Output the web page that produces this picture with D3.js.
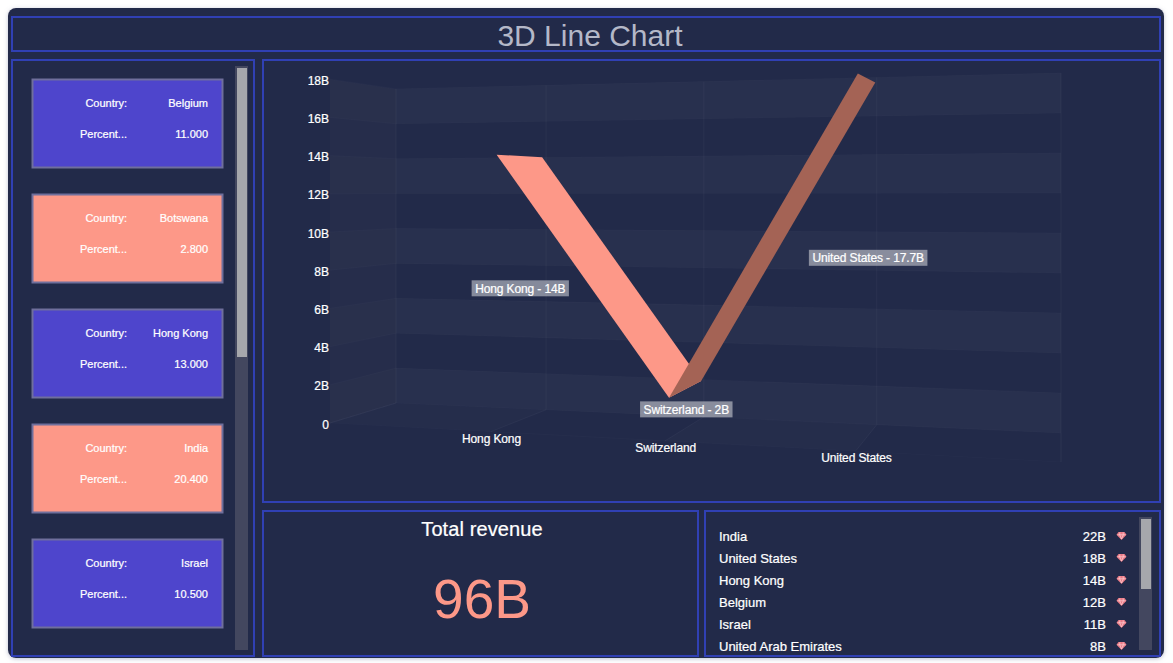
<!DOCTYPE html>
<html>
<head>
<meta charset="utf-8">
<script src="https://cdn.jsdelivr.net/npm/d3@7"></script>
<style>
  html, body { margin: 0; background: #fff; overflow: hidden; }
  svg { display: block; font-family: "Liberation Sans", Arial, sans-serif; }
  .white { fill: #fff; stroke: #fff; stroke-width: 0.22px; }
  .tight { letter-spacing: -0.12px; }
</style>
</head>
<body>
<svg id="chart" width="1173" height="663"></svg>
<script>
const categories = ["Hong Kong", "Switzerland", "United States"];
const revenue = [14, 2, 17.7];
const revenueLabels = ["14B", "2B", "17.7B"];
const yTicks = [0, 2, 4, 6, 8, 10, 12, 14, 16, 18];
const segmentColors = ["#fd9888", "#a46355"];

const cardCountries = ["Belgium", "Botswana", "Hong Kong", "India", "Israel"];
const cardPercents = ["11.000", "2.800", "13.000", "20.400", "10.500"];
const cardColors = ["#4e45cc", "#fd9888"];

const listNames = ["India", "United States", "Hong Kong", "Belgium", "Israel", "United Arab Emirates"];
const listValues = ["22B", "18B", "14B", "12B", "11B", "8B"];

const BG = "#23294a";
const BORDER = "#3040b4";
const SALMON = "#fd9888";

const svg = d3.select("#chart");

const defs = svg.append("defs");
const shadow = defs.append("filter").attr("id", "shadow")
  .attr("x", "-2%").attr("y", "-2%").attr("width", "104%").attr("height", "104%");
shadow.append("feDropShadow").attr("dx", 0).attr("dy", 1).attr("stdDeviation", 2)
  .attr("flood-color", "#8088a8").attr("flood-opacity", 0.5);
defs.append("clipPath").attr("id", "list-clip")
  .append("rect").attr("x", 706).attr("y", 512).attr("width", 453).attr("height", 140);

svg.append("rect")
  .attr("x", 8).attr("y", 8).attr("width", 1156).attr("height", 650).attr("rx", 8)
  .attr("fill", BG).attr("filter", "url(#shadow)");

function panel(x, y, w, h) {
  svg.append("rect")
    .attr("x", x + 1).attr("y", y + 1).attr("width", w - 2).attr("height", h - 2)
    .attr("fill", "none").attr("stroke", BORDER).attr("stroke-width", 2);
}

function scrollbar(x, y, h, thumbH) {
  svg.append("rect").attr("x", x).attr("y", y).attr("width", 13).attr("height", h).attr("fill", "#43475f");
  svg.append("rect").attr("x", x + 2).attr("y", y + 2).attr("width", 10).attr("height", thumbH).attr("fill", "#a6a7ac");
}

panel(11, 16, 1150, 36);
panel(11, 59, 244, 598);
panel(262, 59, 899, 444);
panel(262, 510, 437, 147);
panel(704, 510, 457, 147);

svg.append("text")
  .attr("x", 590).attr("y", 46)
  .attr("text-anchor", "middle").attr("font-size", 30).attr("fill", "#b4b8c8")
  .text("3D Line Chart");

// --- cards on the left
const cardY = d3.scaleLinear().domain([0, 1]).range([79, 194]);
const cards = svg.append("g").selectAll("g").data(cardCountries).join("g")
  .attr("transform", (d, i) => `translate(32,${cardY(i)})`);
cards.append("rect")
  .attr("x", 0.5).attr("y", 0.5).attr("width", 190).attr("height", 88)
  .attr("fill", (d, i) => cardColors[i % 2])
  .attr("stroke", "#6f6f9c").attr("stroke-width", 2);
cards.append("text").attr("class", "white").attr("x", 95).attr("y", 28).attr("text-anchor", "end")
  .attr("font-size", 11).text("Country:");
cards.append("text").attr("class", "white").attr("x", 176).attr("y", 28).attr("text-anchor", "end")
  .attr("font-size", 11).text(d => d);
cards.append("text").attr("class", "white").attr("x", 95).attr("y", 59).attr("text-anchor", "end")
  .attr("font-size", 11).text("Percent...");
cards.append("text").attr("class", "white").attr("x", 176).attr("y", 59).attr("text-anchor", "end")
  .attr("font-size", 11).text((d, i) => cardPercents[i]);
scrollbar(235, 66, 584, 289);

// --- the 3D projection: t runs along the categories, w from back wall (0) to front (1)
const tPos = d3.scalePoint().domain(categories).range([0.25, 0.75]);
const uOfT = d3.scaleLinear().domain([0, 0.25, 0.5, 0.75, 1]).range([0, 0.2256, 0.463, 0.723, 1]);
const backX = d3.scaleLinear().domain([0, 1]).range([396, 1061]);
const frontX = d3.scaleLinear().domain([0, 0.2256, 0.723, 1]).range([330, 490.5, 855.5, 1061]);
const backFloor = d3.scaleLinear().domain([0, 1]).range([403, 433]);
const frontFloor = d3.scaleLinear().domain([0, 1]).range([423, 462]);
const backUnit = d3.scaleLinear().domain([0, 1]).range([17.45, 20]);
const frontUnit = d3.scaleLinear().domain([0, 1]).range([19.1, 22.3]);

function project(t, value, w) {
  const u = uOfT(t);
  const x = backX(u) + (frontX(u) - backX(u)) * w;
  const floor = backFloor(u) + (frontFloor(u) - backFloor(u)) * w;
  const unit = backUnit(u) + (frontUnit(u) - backUnit(u)) * w;
  return [x, floor - unit * value];
}

const line = d3.line();
const plot = svg.append("g");
const bandPairs = d3.pairs(yTicks).filter((d, i) => i % 2 === 0);
const cellEdges = [0, 0.25, 0.5, 0.75, 1];

// faint tint behind the left wall
plot.append("path")
  .attr("d", line([project(0, 0, 1), project(0, 0, 0), project(0, 18, 0), project(0, 18, 1)]) + "Z")
  .attr("fill", "rgba(255,225,215,0.018)");

// back wall and left wall bands
bandPairs.forEach(([lo, hi]) => {
  plot.append("path")
    .attr("d", line(cellEdges.map(t => project(t, lo, 0)).concat(cellEdges.map(t => project(t, hi, 0)).reverse())) + "Z")
    .attr("fill", "rgba(255,255,255,0.032)");
  plot.append("path")
    .attr("d", line([project(0, lo, 1), project(0, lo, 0), project(0, hi, 0), project(0, hi, 1)]) + "Z")
    .attr("fill", "rgba(255,230,220,0.016)");
});

// grid lines on both walls
yTicks.forEach(v => {
  plot.append("path")
    .attr("d", line([project(0, v, 1), project(0, v, 0), project(1, v, 0)]))
    .attr("fill", "none").attr("stroke", "rgba(255,255,255,0.02)");
});
cellEdges.forEach(t => {
  plot.append("path")
    .attr("d", line([project(t, 18, 0), project(t, 0, 0), project(t, 0, 1)]))
    .attr("fill", "none").attr("stroke", "rgba(255,255,255,0.04)");
});
plot.append("path")
  .attr("d", line([project(0, 0, 1), project(1, 0, 1), project(1, 0, 0)]))
  .attr("fill", "none").attr("stroke", "rgba(255,255,255,0.015)");

// floor cells
[[0, 0.25], [0.5, 0.75]].forEach(([t0, t1]) => {
  plot.append("path")
    .attr("d", line([project(t0, 0, 0), project(t1, 0, 0), project(t1, 0, 1), project(t0, 0, 1)]) + "Z")
    .attr("fill", "rgba(255,235,225,0.015)");
});

// y axis labels follow the front edge of the left wall
svg.append("g").selectAll("text").data(yTicks).join("text")
  .attr("class", "white")
  .attr("x", 329)
  .attr("y", d => project(0, d, 1)[1] + 5.5)
  .attr("text-anchor", "end").attr("font-size", 12)
  .text(d => d === 0 ? "0" : d + "B");

svg.append("g").selectAll("text").data(categories).join("text")
  .attr("class", "white tight")
  .attr("x", d => project(tPos(d), 0, 1)[0] + 1)
  .attr("y", d => project(tPos(d), 0, 1)[1] + 11)
  .attr("text-anchor", "middle").attr("font-size", 12)
  .text(d => d);

// the ribbon, one quad per segment
const W_BACK = 0.07;
const W_FRONT = 0.89;
d3.pairs(categories.map((c, i) => ({ t: tPos(c), v: revenue[i] }))).forEach(([a, b], i) => {
  plot.append("path")
    .attr("d", line([
      project(a.t, a.v, W_FRONT), project(a.t, a.v, W_BACK),
      project(b.t, b.v, W_BACK), project(b.t, b.v, W_FRONT)
    ]) + "Z")
    .attr("fill", segmentColors[i]);
});

// value labels sit halfway up the value
const valueLabels = svg.append("g").selectAll("g").data(categories).join("g")
  .attr("transform", (d, i) => {
    const [x, y] = project(tPos(d), revenue[i] / 2, 0.5);
    return `translate(${x + 2},${y})`;
  });
const valueText = valueLabels.append("text")
  .attr("class", "white tight")
  .attr("y", 4.5).attr("text-anchor", "middle").attr("font-size", 12)
  .text((d, i) => `${d} - ${revenueLabels[i]}`);
valueLabels.insert("rect", "text")
  .attr("x", (d, i) => -valueText.nodes()[i].getComputedTextLength() / 2 - 3.5)
  .attr("y", -8)
  .attr("width", (d, i) => valueText.nodes()[i].getComputedTextLength() + 7)
  .attr("height", 16)
  .attr("fill", "rgba(255,255,255,0.45)");

// --- total revenue
svg.append("text").attr("class", "white").attr("x", 482).attr("y", 536)
  .attr("text-anchor", "middle").attr("font-size", 20).attr("letter-spacing", 0.1).text("Total revenue");
svg.append("text").attr("x", 482).attr("y", 618)
  .attr("text-anchor", "middle").attr("font-size", 55).attr("fill", SALMON).text("96B");

// --- ranked list
const rowY = d3.scaleLinear().domain([0, 1]).range([536, 558]);
const rows = svg.append("g").attr("clip-path", "url(#list-clip)")
  .selectAll("g").data(listNames).join("g")
  .attr("transform", (d, i) => `translate(0,${rowY(i)})`);
rows.append("text").attr("class", "white").attr("x", 719).attr("y", 4.5)
  .attr("font-size", 13).text(d => d);
rows.append("text").attr("class", "white").attr("x", 1106).attr("y", 4.5).attr("text-anchor", "end")
  .attr("font-size", 13).text((d, i) => listValues[i]);
// gem icon
rows.append("path")
  .attr("transform", "translate(1121.5,0)")
  .attr("d", "M-3,-4H3L5,-1.2L0,4L-5,-1.2Z").attr("fill", "#ec7a86");
rows.append("path")
  .attr("transform", "translate(1121.5,0)")
  .attr("d", "M-4,-1.2H4M-1.6,-3.6L-1.8,-1.2L0,3M1.6,-3.6L1.8,-1.2L0,3")
  .attr("fill", "none").attr("stroke", "#fbd6d8").attr("stroke-width", 0.7);
scrollbar(1139, 517, 133, 70);
</script>
</body>
</html>
